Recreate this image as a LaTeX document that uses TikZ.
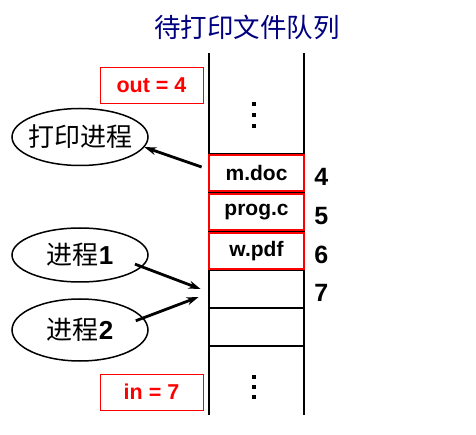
\documentclass[tikz,border=0pt]{standalone}
\usepackage{fontspec}
\setmainfont{Liberation Sans}
\newfontfamily\cjk{Noto Sans CJK SC}
\usetikzlibrary{shapes.geometric,arrows.meta}
\definecolor{titleblue}{RGB}{0,0,128}

\begin{document}
\begin{tikzpicture}[
    x=1pt, y=-1pt,
    colline/.style={line width=2.8pt},
    slot/.style={rectangle, draw=black, line width=2.8pt, minimum width=95pt, minimum height=38pt, inner sep=0pt},
    filebox/.style={rectangle, draw=red, line width=2.6pt, fill=white, minimum width=95pt, minimum height=36pt, inner sep=0pt, font=\fontsize{21}{24}\selectfont\bfseries},
    ptrbox/.style={rectangle, draw=red, line width=0.9pt, minimum width=103pt, minimum height=36pt, text=red, font=\fontsize{21.5}{24}\selectfont\bfseries},
    proc/.style={ellipse, draw, line width=1.5pt, minimum width=136pt, minimum height=57pt, inner xsep=-4pt, inner ysep=0pt, font=\fontsize{26}{30}\selectfont},
    numlbl/.style={font=\fontsize{25}{30}\selectfont\bfseries, inner sep=0pt},
    myarrow/.style={-{Stealth[length=12pt,width=8pt]}, line width=2.8pt},
]
\useasboundingbox (0,0) rectangle (476,435);

\node[font=\cjk\fontsize{26.5}{30}\selectfont, text=titleblue] (title) at (247,27) {待打印文件队列};

\draw[colline] (209,53) -- (209,415);
\draw[colline] (304,53) -- (304,415);

\foreach \n/\y in {4/173,5/212,6/251,7/289,8/327}
    \node[slot] (s\n) at (256.5,\y) {};

\node[filebox] (f4) at (s4) {m.doc};
\node[filebox] (f5) at (s5) {prog.c};
\node[filebox] (f6) at (s6) {w.pdf};

\foreach \n in {4,...,7}
    \node[numlbl] (n\n) at ([xshift=16pt,yshift=-4pt]s\n.east) {\n};

\foreach \y in {102,113,124,375,385,395}
    \fill (252,\y) rectangle +(4,4);

\node[ptrbox] (outp) at (151.5,85) {out = 4};
\node[ptrbox] (inp) at (151.5,392) {in = 7};

\node[proc] (printer) at (80,137) {\cjk 打印进程};
\node[proc, minimum height=54pt] (proc1) at (80,255) {{\cjk 进程}\textbf{1}};
\node[proc, minimum height=62pt] (proc2) at (80,330) {{\cjk 进程}\textbf{2}};

\draw[myarrow] ([xshift=-6pt,yshift=6pt]s4.west) -- (printer.-9);
\draw[myarrow] ([xshift=-10pt]proc1.-8) -- ([xshift=-7pt]s7.west);
\draw[myarrow] ([xshift=-10pt]proc2.8) -- ([xshift=-9pt,yshift=-8pt]s7.west);
\end{tikzpicture}
\end{document}
